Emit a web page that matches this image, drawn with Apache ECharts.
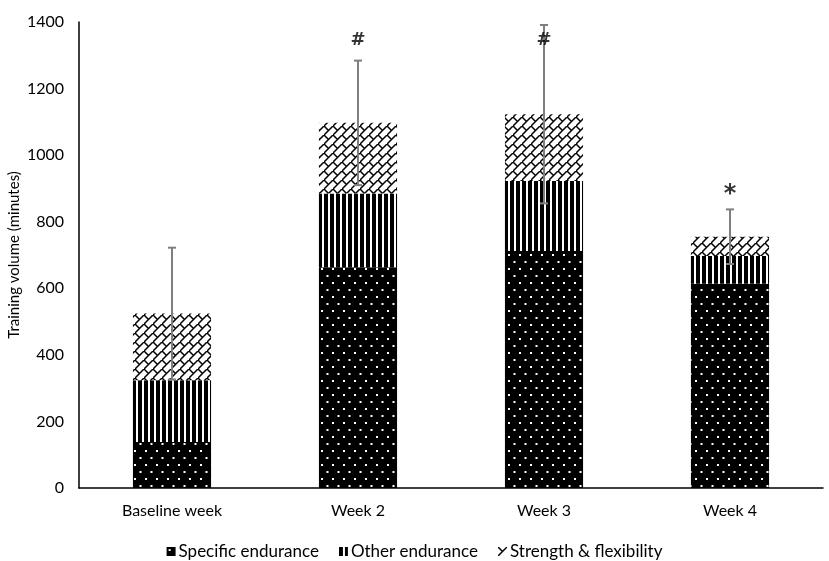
<!DOCTYPE html>
<html lang="en">
<head>
<meta charset="UTF-8">
<title>Training volume</title>
<script src="https://cdn.jsdelivr.net/npm/echarts@6/dist/echarts.min.js"></script>
<style>
  html, body { margin: 0; padding: 0; background: #fff; }
  #main { width: 829px; height: 561px; }
</style>
</head>
<body>
<div id="main"></div>
<script>
var categories = ['Baseline week', 'Week 2', 'Week 3', 'Week 4'];
var specific = [138, 663, 712, 614];   // Specific endurance
var other = [186, 222, 210, 83];       // Other endurance
var strength = [200, 212, 201, 58];    // Strength & flexibility
var errSd = [198, 187, 268, 82];       // error bar half length
var marks = ['', '#', '#', '*'];
var markVal = [null, 1346, 1346, 895];
var yTicks = [0, 200, 400, 600, 800, 1000, 1200, 1400];

// totals for error bars
var totals = [];
for (var i = 0; i < categories.length; i++) {
  totals.push(specific[i] + other[i] + strength[i]);
}
var errData = [];
for (var i = 0; i < categories.length; i++) {
  errData.push([i, totals[i] - errSd[i], totals[i] + errSd[i]]);
}
var markData = [];
for (var i = 0; i < categories.length; i++) {
  if (markVal[i] == null) continue;
  markData.push({
    value: [i, markVal[i]],
    mark: marks[i],
    label: { fontSize: marks[i] == '*' ? 24 : 18, offset: marks[i] == '*' ? [0, 5] : [0, 0] }
  });
}

// patterns
function makeCanvas(w, h) {
  var c = document.createElement('canvas');
  c.width = w; c.height = h;
  return c;
}
function dotsPattern() {
  var c = makeCanvas(11, 14), g = c.getContext('2d');
  g.fillStyle = '#000'; g.fillRect(0, 0, 11, 14);
  g.fillStyle = '#fff';
  g.fillRect(2, 2, 2, 2);
  g.fillRect(7.5, 9, 2, 2);
  return c;
}
function stripesPattern() {
  var c = makeCanvas(6, 6), g = c.getContext('2d');
  g.fillStyle = '#fff'; g.fillRect(0, 0, 6, 6);
  g.fillStyle = '#000'; g.fillRect(0, 0, 4, 6);
  return c;
}
function brickPattern() {
  var c = makeCanvas(9, 9), g = c.getContext('2d');
  g.fillStyle = '#fff'; g.fillRect(0, 0, 9, 9);
  g.strokeStyle = '#000'; g.lineWidth = 1.5;
  g.beginPath();
  g.moveTo(-1, 10); g.lineTo(10, -1);
  g.moveTo(0, 0); g.lineTo(4.5, 4.5);
  g.stroke();
  return c;
}

var chart = echarts.init(document.getElementById('main'));
var font = 'Lato, "Open Sans", sans-serif';

var option = {
  animation: false,
  textStyle: { fontFamily: font },
  grid: { left: 79, right: 6, top: 22, bottom: 73, containLabel: false, outerBoundsMode: 'none' },
  legend: {
    top: 538,
    left: 'center',
    itemWidth: 9,
    itemHeight: 9,
    itemGap: 20,
    icon: 'rect',
    textStyle: { fontFamily: font, fontSize: 17, color: '#000', padding: [0, 0, 0, -2] },
    data: ['Specific endurance', 'Other endurance', 'Strength & flexibility']
  },
  xAxis: {
    type: 'category',
    data: categories,
    axisLine: { lineStyle: { color: '#000', width: 1.5 } },
    axisTick: { show: false },
    axisLabel: { fontFamily: font, fontSize: 16, color: '#000', margin: 15 }
  },
  yAxis: {
    type: 'value',
    min: 0, max: 1400, interval: 200,
    name: 'Training volume (minutes)',
    nameLocation: 'middle',
    nameGap: 57,
    nameMoveOverlap: false,
    nameTextStyle: { fontFamily: font, fontSize: 15, color: '#000' },
    axisLine: { show: true, lineStyle: { color: '#000', width: 1.5 } },
    axisTick: { show: false },
    splitLine: { show: false },
    axisLabel: {
      fontFamily: font, fontSize: 16, color: '#000', margin: 15,
      formatter: function (v) { return yTicks.indexOf(v) >= 0 ? String(v) : ''; }
    }
  },
  series: [
    {
      name: 'Specific endurance', type: 'bar', stack: 'total', barWidth: '42%',
      itemStyle: { color: { image: dotsPattern(), repeat: 'repeat' } },
      data: specific
    },
    {
      name: 'Other endurance', type: 'bar', stack: 'total', barWidth: '42%',
      itemStyle: { color: { image: stripesPattern(), repeat: 'repeat' } },
      data: other
    },
    {
      name: 'Strength & flexibility', type: 'bar', stack: 'total', barWidth: '42%',
      itemStyle: { color: { image: brickPattern(), repeat: 'repeat' } },
      data: strength
    },
    {
      type: 'custom',
      name: 'error',
      z: 10,
      renderItem: function (params, api) {
        var x = api.value(0);
        var lo = api.coord([x, api.value(1)]);
        var hi = api.coord([x, api.value(2)]);
        var cap = 4;
        var st = { stroke: '#7f7f7f', lineWidth: 2 };
        return {
          type: 'group',
          children: [
            { type: 'line', shape: { x1: hi[0], y1: hi[1], x2: lo[0], y2: lo[1] }, style: st },
            { type: 'line', shape: { x1: hi[0] - cap, y1: hi[1], x2: hi[0] + cap, y2: hi[1] }, style: st },
            { type: 'line', shape: { x1: lo[0] - cap, y1: lo[1], x2: lo[0] + cap, y2: lo[1] }, style: st }
          ]
        };
      },
      encode: { x: 0, y: [1, 2] },
      data: errData
    },
    {
      type: 'scatter',
      name: 'marks',
      symbolSize: 0,
      z: 11,
      label: {
        show: true,
        position: 'inside',
        fontFamily: '"DejaVu Sans", sans-serif',
        fontSize: 18,
        fontWeight: 'bold',
        color: '#000',
        formatter: function (p) { return p.data.mark; }
      },
      data: markData
    }
  ]
};
chart.setOption(option);
</script>
</body>
</html>
